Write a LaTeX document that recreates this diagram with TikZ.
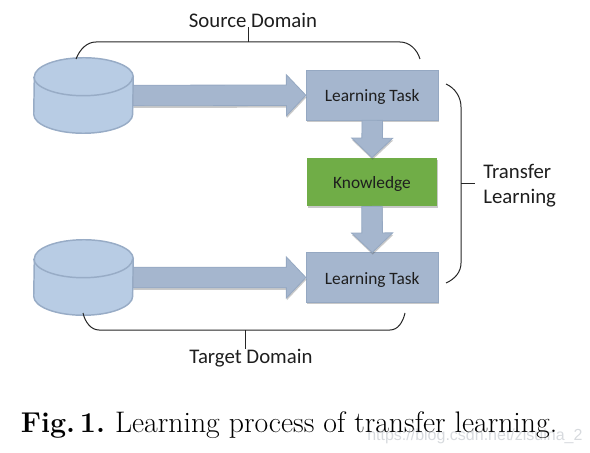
\documentclass[tikz,border=0pt]{standalone}
\usepackage{fontspec}
\newfontfamily\carlito{Carlito}
\newfontfamily\marksans{Liberation Sans}
\usepackage{xcolor}
\usepackage{tikz}
\usetikzlibrary{arrows.meta, positioning, shapes.geometric, calc, shadows}
\definecolor{DiskFill}{RGB}{184,204,228}
\definecolor{DiskLine}{RGB}{152,172,198}
\definecolor{SteelFill}{RGB}{165,182,206}
\definecolor{SteelLine}{RGB}{149,168,194}
\definecolor{LeafFill}{RGB}{112,173,71}
\definecolor{MarkGray}{RGB}{215,218,222}
\definecolor{InkGray}{RGB}{30,30,30}
\tikzset{
  softshadow/.style={drop shadow={shadow xshift=0.4pt,shadow yshift=-1.6pt,opacity=.3,fill=black!70}},
  diskbox/.style={minimum width=74.25pt,minimum height=56.25pt,inner sep=0pt},
  diskline/.style={draw=DiskLine,fill=DiskFill,line width=1.1pt},
  tasknode/.style={draw=SteelLine,fill=SteelFill,line width=.6pt,minimum width=99pt,minimum height=37pt,
    inner sep=0pt,text=InkGray,text height=12.2pt,text depth=2.4pt,font=\carlito\fontsize{13}{15}\selectfont,softshadow},
  keynode/.style={tasknode,draw=none,fill=LeafFill,minimum width=97.5pt,minimum height=36pt},
  fatbody/.style={draw=SteelLine,fill=SteelFill,line width=.6pt,softshadow},
  bracket/.style={draw=black!85,line width=.75pt},
  bracelabel/.style={inner sep=0pt,text=InkGray,font=\carlito\fontsize{15.6}{18.75}\selectfont},
}
\newcommand{\diskshape}[2]{%
  \node[diskbox] (#1) at (#2) {};
  \draw[diskline] ($(#1.south west)+(0,-19)$) arc[start angle=180,end angle=360,x radius=37.1pt,y radius=14.25pt]
    -- ($(#1.north east)+(0,19)$) arc[start angle=0,end angle=180,x radius=37.1pt,y radius=14.25pt] -- cycle;
  \draw[diskline,fill=none] ($(#1.north west)+(0,19)$) arc[start angle=180,end angle=360,x radius=37.1pt,y radius=14.25pt];
}
\newcommand{\fatarrow}[2]{%
  \coordinate (headbase) at ($(#2)!14.6pt!(#1)$);
  \draw[fatbody] ($(#1)!7.7pt!90:(#2)$) -- ($(headbase)!7.7pt!90:(#2)$) -- ($(headbase)!15.4pt!90:(#2)$) -- (#2)
    -- ($(headbase)!15.4pt!-90:(#2)$) -- ($(headbase)!7.7pt!-90:(#2)$) -- ($(#1)!7.7pt!-90:(#2)$) -- cycle;
}

\begin{document}
\begin{tikzpicture}[x=0.75pt,y=-0.75pt]
  \useasboundingbox (0,0) rectangle (590,453);
  % stores and boxes
  \diskshape{disk1}{83.5,95.5}
  \diskshape{disk2}{83.5,277.5}
  \node[tasknode] (task1) at (372.25,95.25) {Learning Task};
  \node[keynode]  (know)  at (372,182) {Knowledge};
  \node[tasknode] (task2) at (372.25,277.5) {Learning Task};
  \fatarrow{disk1.east}{task1.west}
  \fatarrow{disk2.east}{task2.west}
  \fatarrow{task1.south}{know.north}
  \fatarrow{know.south}{task2.north}
  % labels
  \node[bracelabel] (srclabel) at (253,20) {Source Domain};
  \node[bracelabel] (tgtlabel) at (251,358.5) {Target Domain};
  \node[bracelabel,align=left,anchor=west] (tllabel) at (483,186) {Transfer\\Learning};
  % brackets
  \coordinate (srcmid) at (248,42);
  \coordinate (tgtmid) at (245,330);
  \coordinate (tlmid) at (461,184);
  \draw[bracket] (76,59) .. controls (80,49) and (87,42) .. (96,42) -- (400,42) .. controls (409,42) and (417,49) .. (420,59);
  \draw[bracket] (83,313) .. controls (85,322) and (91,330) .. (99,330) -- (390,330) .. controls (398,330) and (403,322) .. (405,313);
  \draw[bracket] (446,84) .. controls (455,88) and (461,97) .. (461,107) -- (461,263) .. controls (461,272) and (455,279) .. (446,283);
  \draw[bracket] (srcmid) -- (srcmid |- srclabel.south);
  \draw[bracket] (tgtmid) -- (tgtmid |- tgtlabel.north);
  \draw[bracket] (tlmid) -- (475,184);
  % caption
  \node[anchor=base west,inner sep=0pt,text=MarkGray,font=\marksans\fontsize{12}{14}\selectfont] (mark) at (367,440) {https://blog.csdn.net/zisuina\_2};
  \node[anchor=base west,inner sep=0pt,font=\fontsize{22.3}{24}\selectfont] (caption) at (20.5,432) {{\fontsize{21.5}{24}\selectfont\textbf{Fig.\,1.}}\hspace{7.5pt}Learning process of transfer learning.};
\end{tikzpicture}
\end{document}
